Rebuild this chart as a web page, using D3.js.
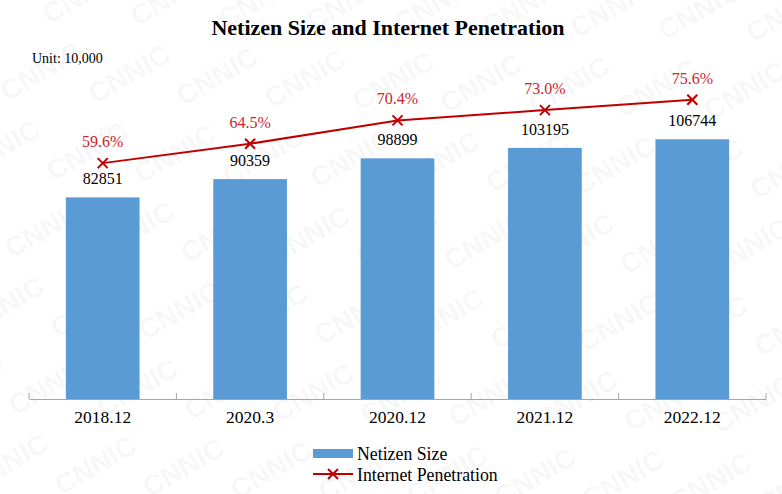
<!DOCTYPE html>
<html>
<head>
<meta charset="utf-8">
<script src="https://cdn.jsdelivr.net/npm/d3@7"></script>
<style>
  html, body { margin: 0; padding: 0; background: #fff; }
  svg { display: block; }
</style>
</head>
<body>
<svg id="chart" width="782" height="494"></svg>
<script>
// Netizen size (unit: 10,000) and internet penetration rate by period
const categories = ["2018.12", "2020.3", "2020.12", "2021.12", "2022.12"];
const netizenSize = [82851, 90359, 98899, 103195, 106744];
const penetration = [59.6, 64.5, 70.4, 73.0, 75.6];

const titleText = "Netizen Size and Internet Penetration";
const unitText = "Unit: 10,000";
const legendLabels = ["Netizen Size", "Internet Penetration"];

const W = 782, H = 494;
const serif = "'Liberation Serif', 'Times New Roman', serif";
const barColor = "#5B9BD5";
const lineColor = "#C00000";
const pctColor = "#C8282D";

const svg = d3.select("#chart");

// Faint "CNNIC" watermark, tiled on a lattice rotated by -30 degrees
const wm = svg.append("g").attr("class", "watermark")
  .attr("transform", "rotate(-30)");
for (let v = -12; v < 22; v++) {
  for (let u = -4; u < 9; u++) {
    const t = wm.append("text")
      .attr("x", u * 150 + (v % 2 ? 75 : 0))
      .attr("y", v * 46)
      .attr("text-anchor", "middle")
      .attr("font-family", "'Liberation Sans', Arial, sans-serif")
      .attr("font-weight", "bold")
      .attr("font-size", 28)
      .attr("fill", "#000")
      .attr("fill-opacity", 0.045)
      .text("CNNIC");
    const b = t.node().getBoundingClientRect();
    if (b.right < 0 || b.bottom < 0 || b.left > W || b.top > H) t.remove();
  }
}

const plot = { left: 29, right: 766, bottom: 399 };

const x = d3.scaleBand()
  .domain(categories)
  .range([plot.left, plot.right])
  .paddingInner(0.5)
  .paddingOuter(0.25);

const y = d3.scaleLinear().domain([0, 120000]).range([plot.bottom, 107]);
const y2 = d3.scaleLinear().domain([0, 80]).range([plot.bottom, 82.4]);

// Title and unit
svg.append("text")
  .attr("x", 388).attr("y", 35)
  .attr("text-anchor", "middle")
  .attr("font-family", serif)
  .attr("font-weight", "bold")
  .attr("font-size", 22)
  .attr("fill", "#000")
  .text(titleText);

svg.append("text")
  .attr("x", 32).attr("y", 63)
  .attr("font-family", serif)
  .attr("font-size", 14)
  .attr("fill", "#000")
  .text(unitText);

// Bars
svg.append("g").selectAll("rect")
  .data(categories)
  .join("rect")
  .attr("x", d => x(d))
  .attr("y", (d, i) => y(netizenSize[i]))
  .attr("width", x.bandwidth())
  .attr("height", (d, i) => y(0) - y(netizenSize[i]))
  .attr("fill", barColor);

// Bar value labels
svg.append("g").selectAll("text")
  .data(categories)
  .join("text")
  .attr("x", d => x(d) + x.bandwidth() / 2)
  .attr("y", (d, i) => y(netizenSize[i]) - 13)
  .attr("text-anchor", "middle")
  .attr("font-family", serif)
  .attr("font-size", 16)
  .attr("fill", "#000")
  .text((d, i) => netizenSize[i]);

// Category axis
const axis = svg.append("g")
  .attr("transform", `translate(0,${plot.bottom})`)
  .call(d3.axisBottom(x).tickSize(0).tickPadding(12));
axis.select(".domain").attr("stroke", "#A6A6A6").attr("stroke-width", 1);
axis.selectAll(".tick text")
  .attr("font-family", serif)
  .attr("font-size", 17.5)
  .attr("fill", "#000");

// Boundary tick marks between categories
const boundaries = d3.range(categories.length + 1)
  .map(i => plot.left + i * x.step());
svg.append("g").selectAll("line")
  .data(boundaries)
  .join("line")
  .attr("x1", d => d).attr("x2", d => d)
  .attr("y1", plot.bottom - 6).attr("y2", plot.bottom)
  .attr("stroke", "#A6A6A6")
  .attr("stroke-width", 1);

// Penetration line
const cx = (d, i) => x(categories[i]) + x.bandwidth() / 2;
const line = d3.line()
  .x((d, i) => cx(d, i))
  .y(d => y2(d));

svg.append("path")
  .datum(penetration)
  .attr("d", line)
  .attr("fill", "none")
  .attr("stroke", lineColor)
  .attr("stroke-width", 2);

function cross(g, px, py, r) {
  g.append("path")
    .attr("d", `M${px - r},${py - r}L${px + r},${py + r}M${px - r},${py + r}L${px + r},${py - r}`)
    .attr("stroke", lineColor)
    .attr("stroke-width", 2)
    .attr("fill", "none");
}

const markers = svg.append("g");
penetration.forEach((d, i) => cross(markers, cx(d, i), y2(d), 5));

// Penetration labels
svg.append("g").selectAll("text")
  .data(penetration)
  .join("text")
  .attr("x", (d, i) => cx(d, i))
  .attr("y", d => y2(d) - 16)
  .attr("text-anchor", "middle")
  .attr("font-family", serif)
  .attr("font-size", 16)
  .attr("fill", pctColor)
  .text(d => d.toFixed(1) + "%");

// Legend
const legend = svg.append("g");
legend.append("rect")
  .attr("x", 313).attr("y", 449)
  .attr("width", 40).attr("height", 9)
  .attr("fill", barColor);
legend.append("text")
  .attr("x", 357).attr("y", 460)
  .attr("font-family", serif)
  .attr("font-size", 17.8)
  .attr("fill", "#000")
  .text(legendLabels[0]);
legend.append("line")
  .attr("x1", 313).attr("x2", 353)
  .attr("y1", 474).attr("y2", 474)
  .attr("stroke", lineColor)
  .attr("stroke-width", 2);
cross(legend, 333, 474, 5);
legend.append("text")
  .attr("x", 357).attr("y", 481)
  .attr("font-family", serif)
  .attr("font-size", 17.8)
  .attr("fill", "#000")
  .text(legendLabels[1]);
</script>
</body>
</html>
